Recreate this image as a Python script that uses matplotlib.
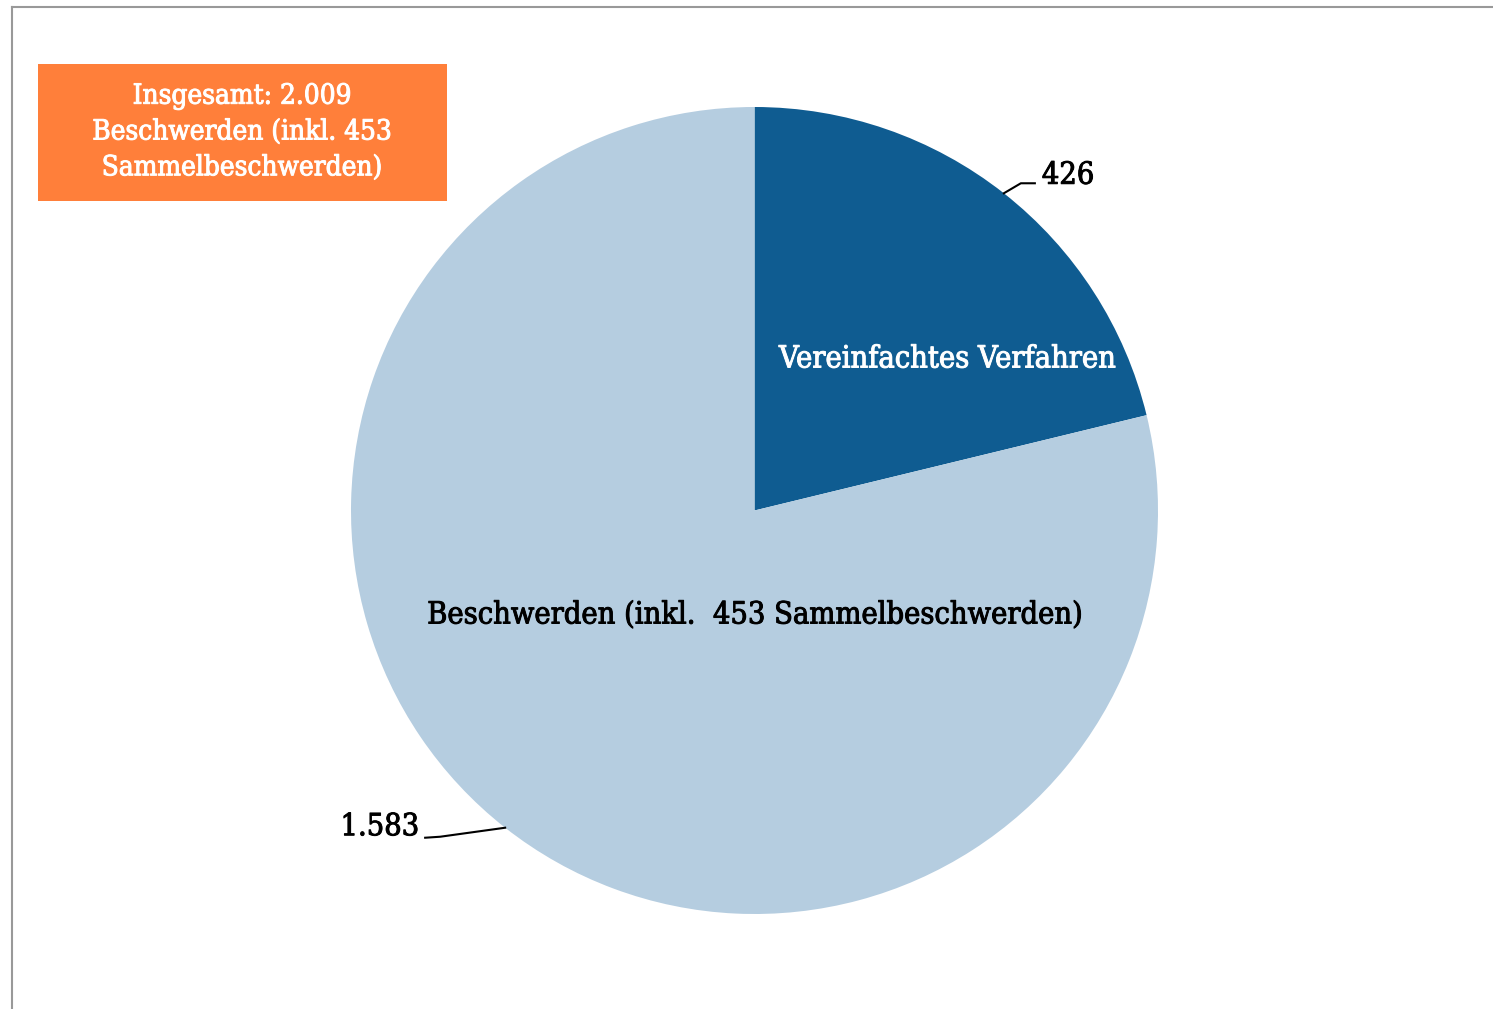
"""Pie chart: Beschwerden vs. vereinfachtes Verfahren."""
import numpy as np
import matplotlib.pyplot as plt
import matplotlib.patheffects as pe
from matplotlib.lines import Line2D
from matplotlib.patches import Rectangle

# data
categories = ['Vereinfachtes Verfahren',
              'Beschwerden (inkl.  453 Sammelbeschwerden)']
values = [426, 1583]
value_labels = ['426', '1.583']
total_text = 'Insgesamt: 2.009\nBeschwerden (inkl. 453\nSammelbeschwerden)'

COLORS = ['#0F5C91', '#B5CDE0']
ORANGE = '#FF7F3A'
FONT = dict(family='DejaVu Serif', fontstretch='condensed', fontsize=22)


def heavy(color):
    # thin outline so the regular face looks a bit heavier
    return [pe.withStroke(linewidth=0.7, foreground=color)]


W, H = 1493, 1009
fig = plt.figure(figsize=(W / 100, H / 100), dpi=100)
ax = fig.add_axes([0, 0, 1, 1])

# pie geometry in pixel-like data units (y counted from bottom)
cx, cy, r = 754.5, H - 510.5, 403.5

wedges, _ = ax.pie(values, colors=COLORS, startangle=90, counterclock=False,
                   center=(cx, cy), radius=r, frame=True,
                   wedgeprops=dict(linewidth=0))
ax.set_xlim(0, W)
ax.set_ylim(0, H)
ax.axis('off')

# category labels inside the slices
ax.text(947, H - 359, categories[0], color='white', ha='center',
        va='center', path_effects=heavy('white'), **FONT)
ax.text(754, H - 615, categories[1], color='black', ha='center',
        va='center', path_effects=heavy('black'), **FONT)

# value labels with leader lines from the middle of each wedge
mids = [np.deg2rad((w.theta1 + w.theta2) / 2) for w in wedges]
edge = [(cx + r * np.cos(a), cy + r * np.sin(a)) for a in mids]

x0, y0 = edge[0]
ax.plot([x0, x0 + 17, x0 + 31], [y0, y0 + 10, y0 + 10],
        color='black', lw=1.5)
ax.text(x0 + 38, y0 + 18, value_labels[0], ha='left', va='center',
        path_effects=heavy('black'), **FONT)

x1, y1 = edge[1]
ax.plot([x1, x1 - 65, x1 - 80], [y1, y1 - 9, y1 - 10],
        color='black', lw=1.5)
ax.text(x1 - 86, y1 + 1, value_labels[1], ha='right', va='center',
        path_effects=heavy('black'), **FONT)

# orange total box
ax.add_patch(Rectangle((38, H - 201), 409, 137, color=ORANGE, lw=0))
box_font = dict(FONT, fontsize=20)
ax.text(242, H - 132, total_text, color='white', ha='center', va='center',
        linespacing=1.42, path_effects=heavy('white'), **box_font)

# partial frame (top and left)
fig.add_artist(Line2D([11.5 / W, 11.5 / W], [0, 1 - 7 / H],
                      color='#999999', lw=1.5))
fig.add_artist(Line2D([11.5 / W, 1], [1 - 7 / H, 1 - 7 / H],
                      color='#999999', lw=1.5))

fig.savefig('out.png', dpi=100)
